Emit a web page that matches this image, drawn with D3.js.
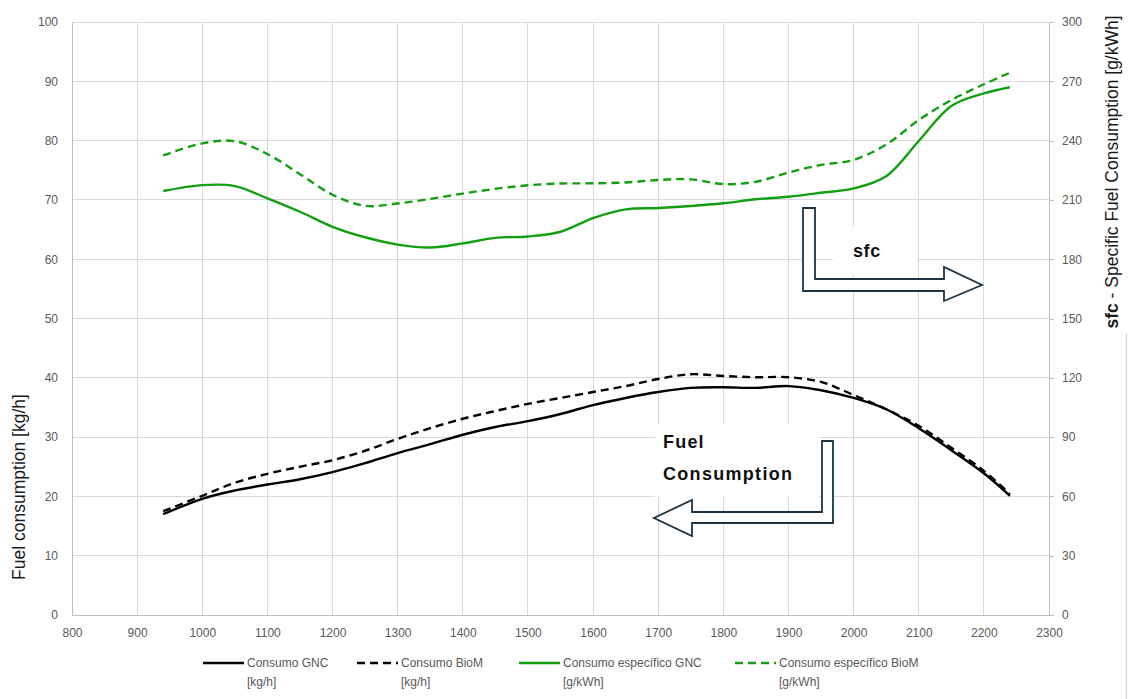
<!DOCTYPE html>
<html>
<head>
<meta charset="utf-8">
<script src="https://cdn.jsdelivr.net/npm/d3@7"></script>
<style>
  html, body { margin: 0; padding: 0; background: #fff; }
  svg { display: block; }
  text { font-family: "Liberation Sans", Arial, sans-serif; }
</style>
</head>
<body>
<svg id="chart" width="1128" height="699"></svg>
<script>
// Engine speed [rpm]
const rpm = [940, 1000, 1050, 1100, 1150, 1200, 1250, 1300, 1350, 1400, 1450, 1500, 1550, 1600,
             1650, 1700, 1750, 1800, 1850, 1900, 1950, 2000, 2050, 2100, 2150, 2200, 2240];

// Fuel consumption [kg/h] (left axis)
const consumoGNC  = [17.0, 19.6, 21.0, 22.0, 22.9, 24.1, 25.6, 27.3, 28.8, 30.4, 31.7, 32.7, 33.9, 35.4,
                     36.6, 37.6, 38.3, 38.4, 38.3, 38.6, 37.9, 36.6, 34.7, 31.5, 27.8, 23.9, 20.1];
const consumoBioM = [17.5, 20.1, 22.3, 23.8, 25.0, 26.1, 27.7, 29.7, 31.5, 33.1, 34.4, 35.6, 36.6, 37.6,
                     38.6, 39.8, 40.6, 40.3, 40.1, 40.1, 39.3, 37.1, 34.7, 31.9, 28.2, 24.3, 20.4];

// Specific fuel consumption [g/kWh] (right axis)
const sfcGNC  = [214.5, 217.5, 217.0, 210.8, 204.0, 196.4, 191.1, 187.4, 185.9, 188.0, 190.8, 191.5, 193.9, 200.8,
                 205.2, 205.9, 206.9, 208.3, 210.3, 211.6, 213.6, 215.8, 222.0, 239.8, 257.5, 263.9, 267.0];
const sfcBioM = [232.5, 238.6, 239.7, 233.2, 223.0, 212.6, 207.0, 208.2, 210.5, 213.2, 215.6, 217.4, 218.3, 218.4,
                 218.8, 220.1, 220.4, 218.0, 219.2, 223.8, 227.7, 230.2, 238.0, 250.4, 260.5, 268.5, 274.3];

// Axis ticks
const xTicks = [800, 900, 1000, 1100, 1200, 1300, 1400, 1500, 1600, 1700, 1800, 1900, 2000, 2100, 2200, 2300];
const yLeftTicks = [0, 10, 20, 30, 40, 50, 60, 70, 80, 90, 100];
const yRightTicks = [0, 30, 60, 90, 120, 150, 180, 210, 240, 270, 300];

// Legend
const legendLabels = [
  ["Consumo GNC", "[kg/h]"],
  ["Consumo BioM", "[kg/h]"],
  ["Consumo específico GNC", "[g/kWh]"],
  ["Consumo específico BioM", "[g/kWh]"]
];

const GREEN = "#12a012";
const INK = "#1d3444";

const svg = d3.select("#chart");
const plotLeft = 72, plotRight = 1049, plotTop = 22, plotBottom = 615;

const x = d3.scaleLinear().domain([800, 2300]).range([plotLeft, plotRight]);
const yL = d3.scaleLinear().domain([0, 100]).range([plotBottom, plotTop]);
const yR = d3.scaleLinear().domain([0, 300]).range([plotBottom, plotTop]);

// Gridlines
const grid = svg.append("g");
grid.selectAll("line.h").data(yLeftTicks.slice(1)).join("line")
  .attr("class", "h")
  .attr("x1", plotLeft).attr("x2", plotRight)
  .attr("y1", d => yL(d)).attr("y2", d => yL(d))
  .attr("stroke", "#d9d9d9").attr("stroke-width", 1).attr("shape-rendering", "crispEdges");
grid.selectAll("line.v").data(xTicks.slice(1, -1)).join("line")
  .attr("class", "v")
  .attr("x1", d => x(d)).attr("x2", d => x(d))
  .attr("y1", plotTop).attr("y2", plotBottom)
  .attr("stroke", "#d9d9d9").attr("stroke-width", 1).attr("shape-rendering", "crispEdges");

// Axes
const axisColor = "#bfbfbf";
const tickColor = "#595959";

const xAxis = svg.append("g").attr("transform", `translate(0,${plotBottom})`)
  .call(d3.axisBottom(x).tickValues(xTicks).tickSize(0).tickPadding(12).tickFormat(d3.format("d")));
const yAxisL = svg.append("g").attr("transform", `translate(${plotLeft},0)`)
  .call(d3.axisLeft(yL).tickValues(yLeftTicks).tickSize(0).tickPadding(14).tickFormat(d3.format("d")));
const yAxisR = svg.append("g").attr("transform", `translate(${plotRight},0)`)
  .call(d3.axisRight(yR).tickValues(yRightTicks).tickSize(5).tickPadding(8).tickFormat(d3.format("d")));

[xAxis, yAxisL, yAxisR].forEach(g => {
  g.select(".domain").attr("stroke", axisColor).attr("shape-rendering", "crispEdges");
  g.selectAll(".tick line").attr("stroke", axisColor).attr("shape-rendering", "crispEdges");
  g.selectAll(".tick text").attr("fill", tickColor).attr("font-size", 12)
    .attr("font-family", "'Liberation Sans', Arial, sans-serif");
});
xAxis.selectAll(".tick text").attr("dy", "0.35em").attr("y", 18);

// Axis titles
svg.append("text")
  .attr("transform", `translate(25,487) rotate(-90)`)
  .attr("text-anchor", "middle")
  .attr("font-size", 17.5).attr("fill", "#1a1a1a")
  .text("Fuel consumption [kg/h]");

const rt = svg.append("text")
  .attr("transform", `translate(1118,172) rotate(-90)`)
  .attr("text-anchor", "middle")
  .attr("font-size", 17.5).attr("fill", "#1a1a1a");
rt.append("tspan").attr("font-weight", "bold").text("sfc");
rt.append("tspan").text(" - Specific Fuel Consumption [g/kWh]");

svg.append("line")
  .attr("x1", 1126.5).attr("x2", 1126.5).attr("y1", 333).attr("y2", 699)
  .attr("stroke", "#d0d0d0").attr("stroke-width", 1);

// Series
const series = [
  { values: consumoGNC,  y: yL, color: "#000", dash: null },
  { values: consumoBioM, y: yL, color: "#000", dash: "8,5" },
  { values: sfcGNC,      y: yR, color: GREEN,  dash: null },
  { values: sfcBioM,     y: yR, color: GREEN,  dash: "8,5" }
];

series.forEach(s => {
  const line = d3.line()
    .x((d, i) => x(rpm[i]))
    .y(d => s.y(d))
    .curve(d3.curveCatmullRom.alpha(0.5));
  svg.append("path")
    .datum(s.values)
    .attr("d", line)
    .attr("fill", "none")
    .attr("stroke", s.color)
    .attr("stroke-width", 2.4)
    .attr("stroke-dasharray", s.dash);
});

// Annotation: sfc arrow pointing to the right axis
svg.append("rect").attr("x", 833).attr("y", 227).attr("width", 84).attr("height", 48).attr("fill", "#fff");
svg.append("path")
  .attr("d", "M803,208 L815,208 L815,279 L944,279 L944,267 L982,285 L944,301 L944,291 L803,291 Z")
  .attr("fill", "#fff").attr("stroke", INK).attr("stroke-width", 1.8).attr("stroke-linejoin", "miter");
svg.append("text")
  .attr("x", 853).attr("y", 257)
  .attr("font-size", 18).attr("font-weight", "bold").attr("fill", "#111")
  .attr("letter-spacing", 0.6)
  .text("sfc");

// Annotation: fuel consumption arrow pointing to the left axis
svg.append("rect").attr("x", 655).attr("y", 424).attr("width", 164).attr("height", 73).attr("fill", "#fff");
svg.append("path")
  .attr("d", "M833,441 L822,441 L822,512 L692,512 L692,500 L654,518 L692,536 L692,523 L833,523 Z")
  .attr("fill", "#fff").attr("stroke", INK).attr("stroke-width", 1.8).attr("stroke-linejoin", "miter");
svg.append("text")
  .attr("x", 663).attr("y", 448)
  .attr("font-size", 18).attr("font-weight", "bold").attr("fill", "#111")
  .attr("letter-spacing", 1.2)
  .text("Fuel");
svg.append("text")
  .attr("x", 663).attr("y", 480)
  .attr("font-size", 18).attr("font-weight", "bold").attr("fill", "#111")
  .attr("letter-spacing", 1.3)
  .text("Consumption");

// Legend
const legendX = [203, 357, 519, 735];
const legend = svg.append("g");
series.forEach((s, i) => {
  const g = legend.append("g").attr("transform", `translate(${legendX[i]},0)`);
  g.append("line")
    .attr("x1", 0).attr("x2", 41).attr("y1", 663).attr("y2", 663)
    .attr("stroke", s.color).attr("stroke-width", 2.4)
    .attr("stroke-dasharray", s.dash);
  g.append("text").attr("x", 44).attr("y", 667)
    .attr("font-size", 12).attr("fill", tickColor).text(legendLabels[i][0]);
  g.append("text").attr("x", 44).attr("y", 686)
    .attr("font-size", 12).attr("fill", tickColor).text(legendLabels[i][1]);
});
</script>
</body>
</html>
